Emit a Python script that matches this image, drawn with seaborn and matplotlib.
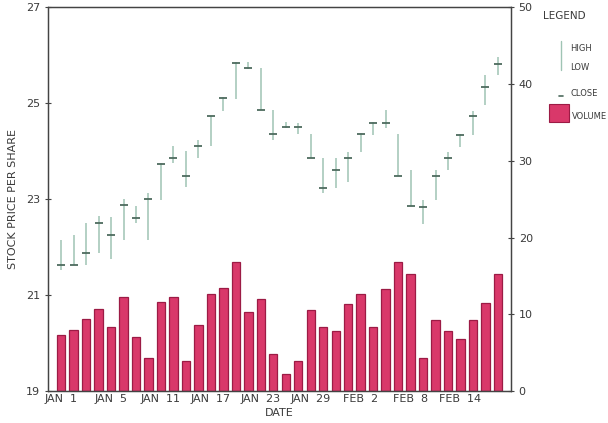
import numpy as np
import pandas as pd
import matplotlib
matplotlib.use('Agg')
import matplotlib.pyplot as plt
import seaborn as sns
from matplotlib.lines import Line2D
from matplotlib.patches import Rectangle

# -----------------------------
# data
high = [22.15, 22.26, 22.51, 22.65, 22.62, 23.00, 22.86, 23.12, 23.75, 24.11,
        24.00, 24.23, 24.74, 25.13, 25.87, 25.87, 25.73, 24.86, 24.62, 24.60,
        24.37, 23.85, 23.86, 23.99, 24.39, 24.62, 24.86, 24.36, 23.61, 22.98,
        23.61, 23.99, 24.37, 24.84, 25.59, 25.96]
low = [21.52, 21.63, 21.62, 21.87, 21.76, 22.15, 22.51, 22.15, 22.98, 23.75,
       23.25, 23.87, 24.11, 24.85, 25.10, 25.72, 24.86, 24.23, 24.48, 24.37,
       23.85, 23.12, 23.23, 23.36, 23.99, 24.34, 24.48, 23.48, 22.86, 22.48,
       22.98, 23.61, 24.09, 24.35, 24.96, 25.59]
close = [21.63, 21.63, 21.88, 22.51, 22.25, 22.87, 22.61, 23.00, 23.73, 23.86,
         23.49, 24.11, 24.73, 25.12, 25.85, 25.73, 24.86, 24.36, 24.50, 24.50,
         23.86, 23.23, 23.61, 23.85, 24.37, 24.60, 24.60, 23.48, 22.86, 22.84,
         23.48, 23.86, 24.35, 24.73, 25.35, 25.83]
volume = [7.3, 7.9, 9.4, 10.7, 8.3, 12.2, 7.1, 4.3, 11.6, 12.2,
          3.9, 8.6, 12.7, 13.4, 16.8, 10.3, 12.0, 4.8, 2.2, 3.9,
          10.6, 8.4, 7.8, 11.3, 12.6, 8.3, 13.3, 16.8, 15.3, 4.3,
          9.3, 7.8, 6.8, 9.2, 11.5, 15.2]
tick_labels = ['JAN  1', 'JAN  5', 'JAN  11', 'JAN  17', 'JAN  23',
               'JAN  29', 'FEB  2', 'FEB  8', 'FEB  14']
price_ticks = [19, 21, 23, 25, 27]
volume_ticks = [0, 10, 20, 30, 40, 50]

df = pd.DataFrame({'day': np.arange(len(volume)), 'high': high, 'low': low,
                   'close': close, 'volume': volume})

sns.set_style('white')
plt.rcParams['font.family'] = ['DejaVu Sans']
text_col = '#3a3a3a'
bar_fill = '#d9386a'
bar_edge = '#9c1b45'
hl_col = '#9fc4b4'
close_col = '#4d6b5e'

fig = plt.figure(figsize=(6.08, 4.23), dpi=100)
ax = fig.add_axes([0.079, 0.0757, 0.7615, 0.9066])
ax2 = ax.twinx()

# volume bars
sns.barplot(data=df, x='day', y='volume', ax=ax2, color=bar_fill,
            edgecolor=bar_edge, linewidth=0.9, width=0.67, saturation=1)

# high-low lines and close ticks
ax.vlines(df['day'], df['low'], df['high'], color=hl_col, linewidth=1.1, zorder=3)
sns.scatterplot(data=df, x='day', y='close', ax=ax, marker='_', s=36,
                color=close_col, linewidth=1.3, zorder=4, legend=False)
ax.set_zorder(ax2.get_zorder() + 1)
ax.patch.set_visible(False)

ax.set_ylim(19, 27)
ax2.set_ylim(0, 50)

ax.set_yticks(price_ticks)
ax.set_yticklabels([str(t) for t in price_ticks])
ax2.set_yticks(volume_ticks)
ax2.set_yticklabels([str(t) for t in volume_ticks])
ax.set_xticks(np.arange(0, 36, 4))
ax.set_xticklabels(tick_labels)
ax.set_xlim(-1.05, 36.05)
ax2.set_xlim(-1.05, 36.05)
ax2.set_xlabel('')

for a in (ax, ax2):
    for s in a.spines.values():
        s.set_color('#444444')
        s.set_linewidth(0.9)
ax.tick_params(axis='y', direction='inout', length=5, width=0.8,
               colors='#444444', labelsize=8, labelcolor=text_col, pad=3)
ax.tick_params(axis='x', direction='inout', length=4, width=0.8,
               colors='#444444', labelsize=8, labelcolor=text_col, pad=0)
ax2.tick_params(axis='y', direction='inout', length=5, width=0.8,
                colors='#444444', labelsize=8, labelcolor=text_col, pad=3)
ax2.tick_params(axis='x', bottom=False, labelbottom=False)

ax.set_xlabel('DATE', fontsize=8, color=text_col, labelpad=3)
ax.set_ylabel('STOCK PRICE PER SHARE', fontsize=8, color=text_col, labelpad=6)
ax2.set_ylabel('')

# legend, drawn by hand like the original
fig.text(0.893, 0.962, 'LEGEND', fontsize=7.5, color=text_col, ha='left', va='center')
fig.add_artist(Line2D([0.9227, 0.9227], [0.834, 0.902], color=hl_col,
                      linewidth=1.0, transform=fig.transFigure))
fig.text(0.938, 0.885, 'HIGH', fontsize=6, color=text_col, ha='left', va='center')
fig.text(0.938, 0.840, 'LOW', fontsize=6, color=text_col, ha='left', va='center')
fig.add_artist(Line2D([0.9195, 0.926], [0.774, 0.774], color=close_col,
                      linewidth=1.2, transform=fig.transFigure))
fig.text(0.938, 0.78, 'CLOSE', fontsize=6, color=text_col, ha='left', va='center')
fig.add_artist(Rectangle((0.903, 0.712), 0.033, 0.042, facecolor=bar_fill,
                         edgecolor=bar_edge, linewidth=0.8, transform=fig.transFigure))
fig.text(0.94, 0.724, 'VOLUME', fontsize=6, color=text_col, ha='left', va='center')

plt.savefig('out.png', dpi=100)
plt.close()
